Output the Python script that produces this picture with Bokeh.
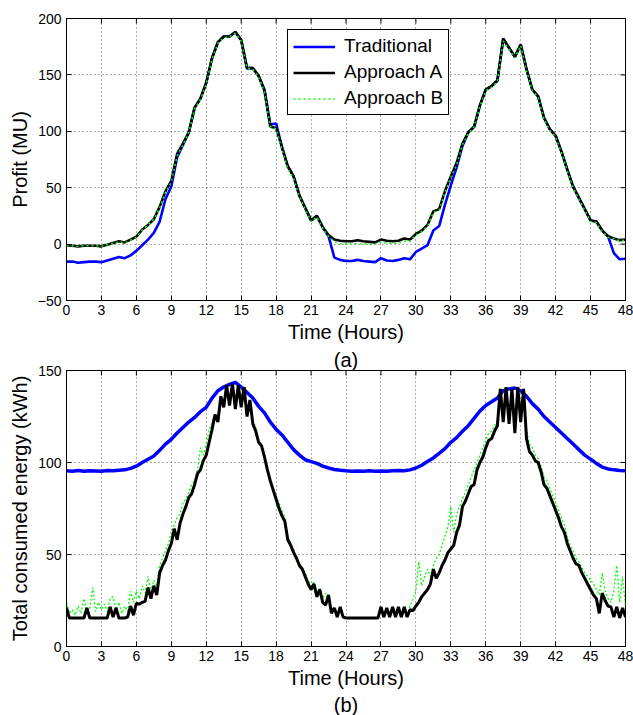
import numpy as np
from bokeh.plotting import figure
from bokeh.models import (FixedTicker, Title, Legend, LegendItem, Range1d)
from bokeh.layouts import column
from bokeh.embed import file_html
from bokeh.resources import INLINE

FONT = "Liberation Sans"

# ---------------- data ----------------
hours_half = np.arange(0, 48.001, 0.5)      # 97 points
hours_quarter = np.arange(0, 48.001, 0.25)  # 193 points

x_ticks = list(range(0, 49, 3))
profit_ticks = [-50, 0, 50, 100, 150, 200]
energy_ticks = [0, 50, 100, 150]

profit_traditional = [
    -15.5, -15.5, -16.5, -16, -15.5, -15.5,
    -16, -14.5, -13, -11.5, -12.5, -10,
    -6, -1, 4, 10, 20, 40,
    51, 77, 88, 99, 121, 129,
    143, 165, 179, 184, 184, 188,
    181, 156, 156, 149, 137, 106,
    107, 86, 69, 60, 43, 32,
    21, 25, 15, 7, -12, -14,
    -15, -15, -14, -15, -15.5, -16,
    -12.5, -14.5, -15, -14, -12.5, -13.5,
    -7, -4, -1, 12, 16, 35,
    52, 68, 87, 99, 104, 123,
    137, 140, 145, 182, 174, 166,
    177, 155, 137, 131, 112, 102,
    96, 82, 66, 51, 41, 31,
    21, 20, 12, 7, -8, -13.5,
    -13]

profit_approach_a = [
    -1, -1.5, -2, -1.5, -1.5, -1.5,
    -2, -0.5, 1, 2.5, 1.5, 4,
    6.5, 13, 17, 22, 33, 47,
    56, 80, 89, 99, 121, 129,
    143, 165, 179, 184, 184, 188,
    181, 156, 156, 149, 136, 104,
    103, 86, 69, 60, 43, 32,
    21, 25, 15, 8, 4, 3,
    2.5, 2.5, 3.5, 2.5, 2, 1.5,
    4, 3, 2.5, 3, 5, 4,
    9, 12, 17, 29, 31, 47,
    60, 72, 89, 99, 104, 123,
    137, 140, 145, 182, 174, 166,
    177, 155, 137, 131, 112, 102,
    96, 82, 66, 51, 41, 31,
    21, 20, 12, 7, 5, 3.5,
    4]

profit_approach_b = [
    -1, -1.5, -2, -1.5, -1.5, -1.5,
    -2, -0.5, 0.5, 2, 1, 3.5,
    6, 12.5, 17, 22, 32, 46,
    55, 78, 88, 99, 120, 128,
    142, 164, 178, 183, 184, 187,
    180, 156, 155, 148, 135, 104,
    102, 84, 67, 58, 42, 31,
    20, 24, 14, 7, 2, 0.5,
    0, 0, 0.5, 0, 0, 0,
    1.5, 1, 0.5, 1, 2.5, 2.5,
    8, 11, 16, 28, 30, 46,
    59, 70, 88, 98, 104, 122,
    136, 139, 144, 180, 173, 165,
    176, 154, 136, 130, 111, 101,
    95, 81, 65, 50, 40, 30,
    20, 19, 11, 6, 4.5, 3,
    3.5]

energy_traditional = [
    95.5, 95.3, 95.6, 95.2, 95.5, 95.4,
    95.3, 95.6, 95.5, 95.8, 96, 96.8,
    98, 100, 101.8, 103.5, 106.6, 110,
    112.6, 116, 119, 122, 124.5, 127.6,
    130, 135, 139, 141, 142.5, 143.5,
    141, 138, 135, 130.5, 127, 122,
    118, 115, 111, 107, 104, 101.5,
    100.5, 99.5, 98, 97, 96.2, 95.8,
    95.5, 95.3, 95.4, 95.2, 95.5, 95.3,
    95.4, 95.3, 95.5, 95.6, 95.5, 96,
    97, 98.5, 100.5, 102.5, 105, 107.5,
    111, 113.5, 117, 120, 124, 128,
    131, 133, 135, 139, 140, 140.5,
    139, 136, 132, 129, 125, 122,
    119, 116, 113, 110, 107, 104,
    101.8, 99.5, 97.5, 96.5, 96, 95.7,
    95.5]

energy_approach_a = [
    21, 15.5, 15.5, 15.5, 15.5, 15.5, 15.5, 21, 15.5, 15.5, 15.5, 15.5,
    15.5, 15.5, 15.5, 21.5, 16, 21, 15.5, 15.5, 15.5, 16, 22, 17,
    23.5, 23, 24, 24.5, 32, 26, 33, 28, 40, 44, 47, 52,
    56, 64, 58, 67, 72, 76, 81, 83, 88, 94, 96, 101,
    104, 111, 118, 126, 122, 136, 130, 142, 131, 143, 129, 142,
    130, 141, 125, 134, 121, 117, 111, 109, 103, 96, 90, 85,
    80, 75, 71, 68, 58, 55, 51, 48, 44, 42, 38, 34,
    31, 34, 27, 31, 24, 22.5, 28, 18, 21, 16, 21.5, 16,
    15.5, 15.5, 15.5, 15.5, 15.5, 15.5, 15.5, 15.5, 15.5, 15.5, 15.5, 15.5,
    21.5, 16, 21, 16, 21.5, 16, 21.5, 16, 21.5, 16, 20, 19.5,
    22, 24, 27, 29, 31, 34, 42, 37, 40, 44, 47, 51,
    53, 55, 62, 66, 76, 79, 83, 87, 88, 96, 100, 103,
    108, 112, 113, 117, 120, 140, 122, 141, 121, 140, 116, 141,
    122, 140, 113, 106, 104, 101, 100, 95, 88, 86, 82, 78,
    74, 70, 65, 62, 56, 52, 48, 45, 44, 40, 37, 34,
    31, 28, 26, 18, 29, 25, 22, 21.5, 16, 21.5, 15.5, 21,
    16]

energy_approach_b = [
    24, 18, 20, 17, 22, 18, 26, 19, 21, 32, 19, 24,
    20, 23, 19, 26, 27, 20, 24, 18, 22, 19, 30, 24,
    30, 26, 33, 29, 38, 30, 36, 33, 44, 48, 52, 56,
    62, 66, 70, 72, 78, 80, 84, 88, 90, 96, 108, 104,
    110, 118, 122, 126, 125, 136, 131, 140, 132, 142, 131, 141,
    131, 138, 126, 132, 123, 119, 112, 110, 104, 97, 92, 86,
    82, 78, 74, 70, 60, 56, 53, 49, 45, 43, 40, 36,
    33, 35, 29, 32, 26, 29, 25, 20, 21, 17, 21.5, 16,
    15.5, 15.5, 15.5, 15.5, 15.5, 15.5, 15.5, 15.5, 15.5, 15.5, 15.5, 15.5,
    21, 16, 21, 16, 22, 17, 21.5, 18, 21.5, 17, 22, 26,
    30, 46, 33, 38, 42, 38, 44, 48, 50, 55, 60, 65,
    76, 62, 72, 76, 80, 84, 88, 92, 96, 100, 104, 108,
    112, 116, 117, 120, 123, 140, 124, 140, 122, 139, 118, 140,
    124, 138, 118, 110, 108, 104, 102, 98, 92, 90, 86, 82,
    78, 74, 70, 66, 60, 55, 52, 48, 46, 43, 40, 38,
    36, 34, 31, 28, 40, 30, 26, 24, 30, 44, 24, 38,
    22]

series_labels = ["Traditional", "Approach A", "Approach B"]


# ---------------- helpers ----------------
def style(p, yticks, ylabel):
    p.x_range = Range1d(0, 48)
    p.y_range = Range1d(yticks[0], yticks[-1])
    p.outline_line_color = "black"
    p.outline_line_width = 1
    p.outline_line_alpha = 1
    p.background_fill_color = "white"
    p.border_fill_color = "white"

    xa = p.xaxis[0]
    ya = p.yaxis[0]
    xa.ticker = FixedTicker(ticks=x_ticks)
    ya.ticker = FixedTicker(ticks=yticks)
    ya.major_label_overrides = {t: ("\u2212" + str(-t)) for t in yticks if t < 0}
    for ax in (xa, ya):
        ax.major_tick_in = 5
        ax.major_tick_out = 0
        ax.minor_tick_line_color = None
        ax.axis_line_color = "black"
        ax.major_tick_line_color = "black"
        ax.major_label_text_font = FONT
        ax.major_label_text_font_size = "14px"
        ax.major_label_text_color = "black"
        ax.axis_label_text_font = FONT
        ax.axis_label_text_font_size = "20px"
        ax.axis_label_text_font_style = "normal"
        ax.axis_label_text_color = "black"
    xa.axis_label = "Time (Hours)"
    xa.major_label_standoff = 4
    xa.axis_label_standoff = 3
    ya.axis_label = ylabel
    ya.major_label_standoff = 5
    ya.axis_label_standoff = 4

    p.xgrid.ticker = FixedTicker(ticks=x_ticks)
    p.ygrid.ticker = FixedTicker(ticks=yticks)
    for g in (p.xgrid[0], p.ygrid[0]):
        g.grid_line_color = "#333333"
        g.grid_line_dash = "1 3"
        g.grid_line_width = 1
        g.grid_line_alpha = 0.8

    # box ticks on the top and right edges (inside, like the bottom/left ones)
    p.scatter(x=x_ticks, y=[yticks[-1]] * len(x_ticks), marker="dash", size=10,
              angle=np.pi / 2, line_color="black", line_width=1)
    p.scatter(x=[48] * len(yticks), y=yticks, marker="dash", size=10,
              line_color="black", line_width=1)


def sub_title(text):
    return Title(text=text, align="center", text_font=FONT, text_font_size="20px",
                 text_font_style="normal", text_color="black", standoff=0)


# ---------------- top panel ----------------
p1 = figure(width=633, height=346, output_backend="svg", toolbar_location=None,
            title_location=None,
            min_border_left=66, min_border_right=8, min_border_top=18,
            min_border_bottom=46)
style(p1, profit_ticks, "Profit (MU)")

r1 = p1.line(hours_half, profit_traditional, line_color="#0000FF", line_width=2.6)
r2 = p1.line(hours_half, profit_approach_a, line_color="black", line_width=2.6)
r3 = p1.line(hours_half, profit_approach_b, line_color="#00FF00", line_width=1.5,
             line_dash="2 3")

legend = Legend(items=[LegendItem(label=series_labels[0], renderers=[r1]),
                       LegendItem(label=series_labels[1], renderers=[r2]),
                       LegendItem(label=series_labels[2], renderers=[r3])],
                location=(221, 185))
legend.label_text_font = FONT
legend.label_text_font_size = "19px"
legend.label_text_color = "black"
legend.border_line_color = "black"
legend.border_line_width = 1
legend.border_line_alpha = 1
legend.background_fill_color = "white"
legend.background_fill_alpha = 1
legend.glyph_width = 42
legend.glyph_height = 19
legend.label_height = 19
legend.spacing = 4
legend.padding = 5
legend.margin = 0
legend.label_standoff = 9
p1.add_layout(legend)

# ---------------- bottom panel ----------------
p2 = figure(width=633, height=369, output_backend="svg", toolbar_location=None,
            title_location=None,
            min_border_left=65, min_border_right=8, min_border_top=22,
            min_border_bottom=66)
style(p2, energy_ticks, "Total consumed energy (kWh)")
p2.add_layout(sub_title("(a)"), "above")
p2.add_layout(sub_title("(b)"), "below")

p2.line(hours_half, energy_traditional, line_color="#0000FF", line_width=3.5)
p2.line(hours_quarter, energy_approach_b, line_color="#00FF00", line_width=1.3,
        line_dash="2 2")
p2.line(hours_quarter, energy_approach_a, line_color="black", line_width=3)

layout = column(p1, p2, spacing=0)
open("out.html", "w").write(file_html(layout, INLINE))
